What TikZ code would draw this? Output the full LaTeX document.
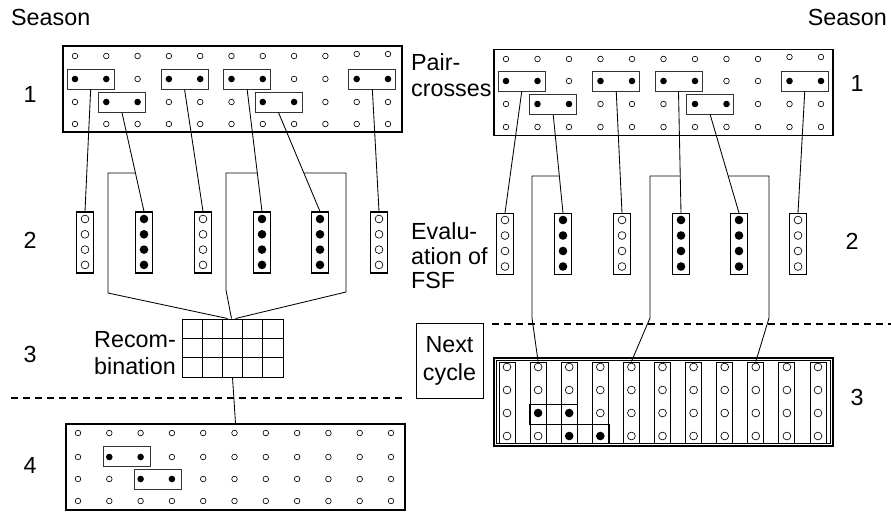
\documentclass[tikz,border=0pt]{standalone}
\usepackage{fontspec}
\setmainfont{Liberation Sans}
\usetikzlibrary{calc}
\begin{document}
\begin{tikzpicture}[x=1pt,y=-1pt,
  blockbox/.style={draw, line width=1.7pt, inner sep=0pt, minimum width=339pt, minimum height=86pt},
  pbox/.style={draw=black!80, line width=0.9pt, minimum width=47pt, minimum height=20pt, inner sep=0pt},
  tube/.style={draw, line width=1.1pt, minimum width=17pt, minimum height=61pt, inner sep=0pt},
  stube/.style={draw, line width=0.9pt, minimum width=16pt, minimum height=81pt, inner sep=0pt},
  conn/.style={line width=0.85pt},
  sepline/.style={line width=1.2pt, dash pattern=on 7pt off 5pt},
  lbl/.style={font=\fontsize{23.3}{26}\selectfont, inner sep=0pt},
  oc/.style={line width=0.65pt},
]
\useasboundingbox (0,0) rectangle (891,512);

% ---------------- labels ----------------
\node[lbl, anchor=west] (seasonL) at (11,17) {Season};
\node[lbl, anchor=east] (seasonR) at (887,17) {Season};
\node[lbl] (nL1) at (30,94) {1};
\node[lbl] (nL2) at (30,240) {2};
\node[lbl] (nL3) at (30,354) {3};
\node[lbl] (nL4) at (30,465) {4};
\node[lbl] (nR1) at (857,83) {1};
\node[lbl] (nR2) at (852,241) {2};
\node[lbl] (nR3) at (857,397) {3};
\node[lbl, align=left, anchor=west] (pairc) at (411,75) {Pair-\\crosses};
\node[lbl, align=left, anchor=west, font=\fontsize{23.3}{24.5}\selectfont] (evalf) at (411,256) {Evalu-\\ation of\\FSF};
\node[lbl, align=right, anchor=east, font=\fontsize{23.3}{27}\selectfont] (recomb) at (176,353) {Recom-\\bination};
\node[draw, line width=0.9pt, minimum width=67pt, minimum height=75pt, align=center, inner sep=0pt,
      font=\fontsize{23.3}{28}\selectfont] (nextc) at (449.5,360.5) {Next\\cycle};

% ---------------- separators ----------------
\draw[sepline] (11,398) -- (405,398);
\draw[sepline] (492,324) -- (891,324);

% ---------------- top-left block (season 1) ----------------
\node[blockbox] (TL) at (232.5,89) {};
\foreach \c in {1,...,9} \draw[oc] ({75+31.3*(\c-1)},56) circle[radius=2.8pt];
\foreach \c in {10,11} \draw[oc] ({75+31.3*(\c-1)},54) circle[radius=2.8pt];
\foreach \c in {3,8,9} \draw[oc] ({75+31.3*(\c-1)},79) circle[radius=2.8pt];
\foreach \c in {1,2,4,5,6,7,10,11} \fill ({75+31.3*(\c-1)},79) circle[radius=3.3pt];
\foreach \c in {1,4,5,6,9,10,11} \draw[oc] ({75+31.3*(\c-1)},102) circle[radius=2.8pt];
\foreach \c in {2,3,7,8} \fill ({75+31.3*(\c-1)},102) circle[radius=3.3pt];
\foreach \c in {1,...,11} \draw[oc] ({75+31.3*(\c-1)},124) circle[radius=2.8pt];
\node[pbox] (LP1) at (90.65,79) {};
\node[pbox] (LP2) at (121.95,102) {};
\node[pbox] (LP3) at (184.55,79) {};
\node[pbox] (LP4) at (247.15,79) {};
\node[pbox] (LP5) at (278.45,102) {};
\node[pbox] (LP6) at (372.35,79) {};

% ---------------- top-right block (season 1) ----------------
\node[blockbox] (TR) at (663.5,92.5) {};
\foreach \c in {1,...,9} \draw[oc] ({506+31.5*(\c-1)},59) circle[radius=2.8pt];
\foreach \c in {10,11} \draw[oc] ({506+31.5*(\c-1)},57) circle[radius=2.8pt];
\foreach \c in {3,8,9} \draw[oc] ({506+31.5*(\c-1)},81) circle[radius=2.8pt];
\foreach \c in {1,2,4,5,6,7,10,11} \fill ({506+31.5*(\c-1)},81) circle[radius=3.3pt];
\foreach \c in {1,4,5,6,9,10,11} \draw[oc] ({506+31.5*(\c-1)},104) circle[radius=2.8pt];
\foreach \c in {2,3,7,8} \fill ({506+31.5*(\c-1)},104) circle[radius=3.3pt];
\foreach \c in {1,...,11} \draw[oc] ({506+31.5*(\c-1)},127) circle[radius=2.8pt];
\node[pbox] (RP1) at (521.75,81) {};
\node[pbox] (RP2) at (553.25,104.5) {};
\node[pbox] (RP3) at (616.25,81) {};
\node[pbox] (RP4) at (678.5,81) {};
\node[pbox] (RP5) at (710.25,104.5) {};
\node[pbox] (RP6) at (804.75,81) {};

% ---------------- left tubes (season 2) ----------------
\foreach \i/\x/\f in {1/85/0,2/144/1,3/203/0,4/262/1,5/320/1,6/379/0} {
  \node[tube] (LT\i) at (\x,242.5) {};
  \foreach \k in {0,...,3} {
    \ifnum\f=1
      \fill (\x,{219+15.3*\k}) circle[radius=4.3pt];
    \else
      \draw[oc] (\x,{219+15.3*\k}) circle[radius=3.9pt];
    \fi
  }
}
% ---------------- right tubes (season 2) ----------------
\foreach \i/\x/\f in {1/505/0,2/563/1,3/622/0,4/681/1,5/739/1,6/798/0} {
  \node[tube] (RT\i) at (\x,244) {};
  \foreach \k in {0,...,3} {
    \ifnum\f=1
      \fill (\x,{220+15.5*\k}) circle[radius=4.3pt];
    \else
      \draw[oc] (\x,{220+15.5*\k}) circle[radius=3.9pt];
    \fi
  }
}

% ---------------- recombination grid ----------------
\node[draw, line width=1pt, minimum width=101pt, minimum height=58pt, inner sep=0pt] (grid) at (232.5,348) {};
\foreach \k in {1,...,4} \draw[line width=1pt] ({182+20.2*\k},319) -- ({182+20.2*\k},377);
\foreach \k in {1,2} \draw[line width=1pt] (182,{319+19.33*\k}) -- (283,{319+19.33*\k});

% ---------------- bottom-left block (season 4) ----------------
\node[blockbox] (BL) at (235.5,467) {};
\foreach \c in {1,...,11} \draw[oc] ({78+31.3*(\c-1)},433) circle[radius=2.8pt];
\foreach \c in {1,4,5,6,7,8,9,10,11} \draw[oc] ({78+31.3*(\c-1)},457) circle[radius=2.8pt];
\foreach \c in {2,3} \fill ({78+31.3*(\c-1)},457) circle[radius=3.3pt];
\foreach \c in {1,2,5,6,7,8,9,10,11} \draw[oc] ({78+31.3*(\c-1)},479) circle[radius=2.8pt];
\foreach \c in {3,4} \fill ({78+31.3*(\c-1)},479) circle[radius=3.3pt];
\foreach \c in {1,...,11} \draw[oc] ({78+31.3*(\c-1)},501) circle[radius=2.8pt];
\node[pbox] (BP1) at (126.5,456.5) {};
\node[pbox] (BP2) at (158,479) {};

% ---------------- bottom-right block (season 3) ----------------
\node[blockbox, minimum height=88pt, line width=1.5pt] (BR) at (663.5,402) {};
\draw[line width=0.7pt] ($(BR.north west)+(3.5,3.5)$) rectangle ($(BR.south east)+(-3.5,-3.5)$);
\foreach \c in {1,...,11} {
  \node[stube] (BT\c) at ({507+31.1*(\c-1)},402.5) {};
}
\foreach \c in {1,...,11} \draw[oc] ({507+31.1*(\c-1)},367) circle[radius=3.9pt];
\foreach \c in {1,...,11} \draw[oc] ({507+31.1*(\c-1)},390) circle[radius=3.9pt];
\foreach \c in {1,4,5,6,7,8,9,10,11} \draw[oc] ({507+31.1*(\c-1)},413) circle[radius=3.9pt];
\foreach \c in {2,3} \fill ({507+31.1*(\c-1)},413) circle[radius=4.3pt];
\foreach \c in {1,2,5,6,7,8,9,10,11} \draw[oc] ({507+31.1*(\c-1)},436) circle[radius=3.9pt];
\foreach \c in {3,4} \fill ({507+31.1*(\c-1)},436) circle[radius=4.3pt];
\node[draw, line width=0.8pt, minimum width=48pt, minimum height=20pt, inner sep=0pt] (BQ1) at (553,414) {};
\node[draw, line width=0.8pt, minimum width=48pt, minimum height=19pt, inner sep=0pt] (BQ2) at (585,433.5) {};

% ---------------- connectors: pair crosses -> evaluation ----------------
\foreach \i in {1,...,6} {
  \draw[conn] (LP\i.south) -- (LT\i.north);
  \draw[conn] (RP\i.south) -- (RT\i.north);
}

% ---------------- selection brackets (left) ----------------
\coordinate (hA1) at (0,173);  \coordinate (hA2) at (891,173);
\coordinate (hB1) at (0,176);  \coordinate (hB2) at (891,176);
\coordinate (la1) at (108,173); \coordinate (la2) at (108,293);
\coordinate (lb1) at (226,173); \coordinate (lb2) at (226,290);
\coordinate (lc1) at (346,173); \coordinate (lc2) at (346,292);
\draw[conn] (intersection of LP2.south--LT2.north and hA1--hA2) -- (la1) -- (la2) -- ($(grid.north)+(-5,0)$);
\draw[conn] (intersection of LP4.south--LT4.north and hA1--hA2) -- (lb1) -- (lb2) -- ($(grid.north)+(-1,0)$);
\draw[conn] (intersection of LP5.south--LT5.north and hA1--hA2) -- (lc1) -- (lc2) -- ($(grid.north)+(3,0)$);
\draw[conn] (grid.south) -- (BL.north);

% ---------------- selection brackets (right) ----------------
\coordinate (ra1) at (532,176); \coordinate (ra2) at (532,318);
\coordinate (rb1) at (650,176); \coordinate (rb2) at (650,318);
\coordinate (rc1) at (769,176); \coordinate (rc2) at (769,318);
\draw[conn] (intersection of RP2.south--RT2.north and hB1--hB2) -- (ra1) -- (ra2) -- (BT2.north);
\draw[conn] (intersection of RP4.south--RT4.north and hB1--hB2) -- (rb1) -- (rb2) -- (BT5.north);
\draw[conn] (intersection of RP5.south--RT5.north and hB1--hB2) -- (rc1) -- (rc2) -- (BT9.north);

\end{tikzpicture}
\end{document}
